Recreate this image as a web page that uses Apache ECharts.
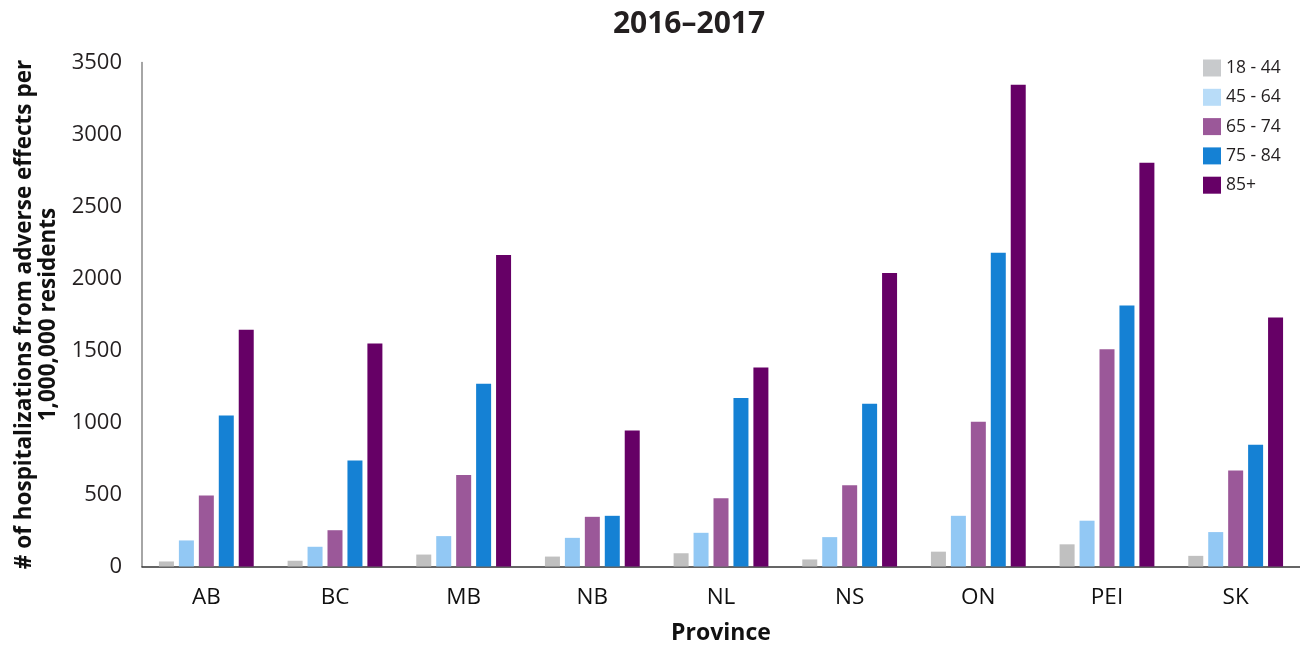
<!DOCTYPE html>
<html>
<head>
<meta charset="utf-8">
<style>
	html, body { margin: 0; padding: 0; background: #fff; }
	#chart { width: 1300px; height: 647px; }
</style>
<script src="https://cdn.jsdelivr.net/npm/echarts@6/dist/echarts.min.js"></script>
</head>
<body>
<div id="chart"></div>
<script>
	// provinces along the x axis
	var provinces = ['AB', 'BC', 'MB', 'NB', 'NL', 'NS', 'ON', 'PEI', 'SK'];
	// age groups (legend)
	var ageGroups = ['18 - 44', '45 - 64', '65 - 74', '75 - 84', '85+'];
	// hospitalizations per 1,000,000 residents
	var age18to44 = [35, 40, 83, 69, 92, 49, 103, 154, 74];
	var age45to64 = [181, 137, 211, 199, 234, 204, 352, 318, 239];
	var age65to74 = [493, 252, 635, 345, 474, 565, 1006, 1508, 667];
	var age75to84 = [1049, 736, 1269, 352, 1171, 1130, 2178, 1813, 846];
	var age85plus = [1644, 1549, 2164, 944, 1382, 2039, 3345, 2803, 1729];
	var yTicks = [0, 500, 1000, 1500, 2000, 2500, 3000, 3500];

	var barColors = ['#c0c0c0', '#92c8f4', '#9b5899', '#1581d4', '#660066'];
	var legendColors = ['#c8cacc', '#b8dcf8', '#9b5899', '#1581d4', '#660066'];
	var seriesValues = [age18to44, age45to64, age65to74, age75to84, age85plus];

	var font = '"Open Sans", "Noto Sans", sans-serif';

	var seriesData = [];
	for (var i = 0; i < ageGroups.length; i++) {
		seriesData.push({
			name: ageGroups[i],
			type: 'bar',
			barWidth: 15,
			barGap: '33%',
			itemStyle: { color: barColors[i] },
			data: seriesValues[i]
		});
	}
	var legendData = [];
	for (var j = 0; j < ageGroups.length; j++) {
		legendData.push({ name: ageGroups[j], itemStyle: { color: legendColors[j] } });
	}

	var chart = echarts.init(document.getElementById('chart'));
	var option = {
		backgroundColor: '#fff',
		animation: false,
		title: {
			text: '2016\u20132017',
			left: 684,
			textAlign: 'center',
			top: 4,
			textStyle: { fontFamily: font, fontWeight: 'bold', fontSize: 30, color: '#231f20' }
		},
		legend: {
			orient: 'vertical',
			left: 1198,
			top: 54,
			itemWidth: 18,
			itemHeight: 17,
			itemGap: 11.3,
			icon: 'rect',
			data: legendData,
			textStyle: { fontFamily: font, fontSize: 17.5, color: '#231f20' }
		},
		grid: {
			left: 142,
			right: 0,
			top: 62.5,
			bottom: 80.5,
			outerBoundsMode: 'none',
			containLabel: false
		},
		xAxis: {
			type: 'category',
			data: provinces,
			name: 'Province',
			nameLocation: 'middle',
			nameGap: 55,
			nameTextStyle: { fontFamily: font, fontWeight: 'bold', fontSize: 23, color: '#111' },
			axisLine: { lineStyle: { color: '#333', width: 1.5 } },
			axisTick: { show: false },
			axisLabel: { margin: 20, fontFamily: font, fontSize: 22.5, color: '#111' }
		},
		yAxis: {
			type: 'value',
			min: yTicks[0],
			max: yTicks[yTicks.length - 1],
			interval: 500,
			name: '# of hospitalizations from adverse effects per\n1,000,000 residents',
			nameLocation: 'middle',
			nameRotate: 90,
			nameGap: 75,
			nameTextStyle: { fontFamily: font, fontWeight: 'bold', fontSize: 22.5, color: '#111', lineHeight: 24 },
			axisLine: { show: true, lineStyle: { color: '#888', width: 1.5 } },
			axisTick: { show: false },
			splitLine: { show: false },
			axisLabel: {
				margin: 20,
				fontFamily: font,
				fontSize: 22,
				color: '#231f20',
				formatter: function (v) { return String(v); }
			}
		},
		series: seriesData
	};
	chart.setOption(option);
</script>
</body>
</html>
